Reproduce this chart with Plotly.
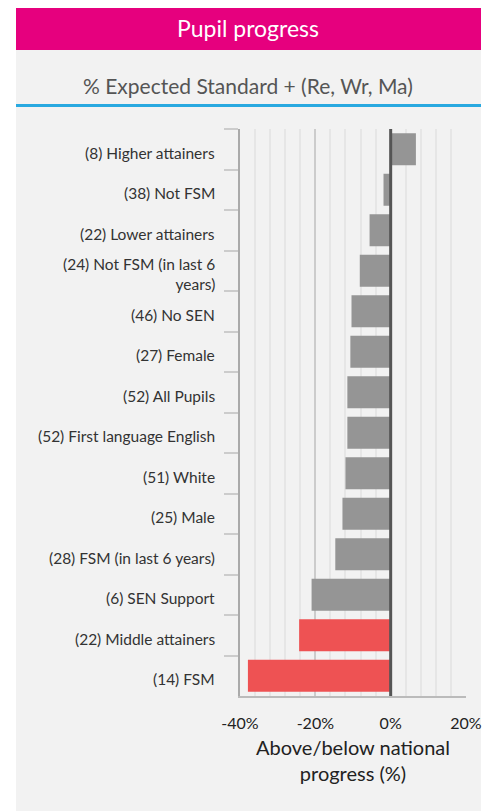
import plotly.graph_objects as go

categories = [
    "(8) Higher attainers",
    "(38) Not FSM",
    "(22) Lower attainers",
    "(24) Not FSM (in last 6<br>years)",
    "(46) No SEN",
    "(27) Female",
    "(52) All Pupils",
    "(52) First language English",
    "(51) White",
    "(25) Male",
    "(28) FSM (in last 6 years)",
    "(6) SEN Support",
    "(22) Middle attainers",
    "(14) FSM",
]
values = [6.7, -1.9, -5.6, -8.2, -10.4, -10.7, -11.5, -11.5, -12.0, -12.8, -14.7, -21.0, -24.3, -37.9]
highlight = [False] * 12 + [True, True]
x_ticks = [-40, -20, 0, 20]
x_ticklabels = ["-40%", "-20%", "0%", "20%"]

GRAY = "#959595"
RED = "#EE5253"
FONT = "Lato"

colors = [RED if h else GRAY for h in highlight]

# page offset (body margin) and figure size
OFF = 8
FW, FH = 487, 803
# plot area in page pixels
PL, PR, PT, PB = 240, 466, 129, 696
ML = PL - OFF
MR = FW - (PR - OFF)
MT = PT - OFF
MB = FH - (PB - OFF)
PW = FW - ML - MR
PH = FH - MT - MB


def px(x):
    return (x - OFF - ML) / PW


def py(y):
    return (FH - (y - OFF) - MB) / PH


fig = go.Figure(go.Bar(
    x=values, y=categories, orientation="h",
    marker=dict(color=colors, line=dict(width=0)),
    width=0.79,
))

annotations = [
    dict(text="Pupil progress", xref="paper", yref="paper",
         x=px(248), y=py(28),
         xanchor="center", yanchor="middle", showarrow=False,
         font=dict(family=FONT, size=23, color="white")),
    dict(text="% Expected Standard + (Re, Wr, Ma)", xref="paper", yref="paper",
         x=px(248), y=py(85),
         xanchor="center", yanchor="middle", showarrow=False,
         font=dict(family=FONT, size=21, color="#555555")),
]
# category labels (as text placed at each category)
for cat in categories:
    annotations.append(dict(
        text=cat, xref="paper", yref="y", x=0, y=cat,
        xanchor="right", yanchor="middle", xshift=-23, yshift=-3.5,
        align="right", showarrow=False,
        font=dict(family=FONT, size=15.5, color="#333333"),
    ))

fig.update_layout(
    width=FW, height=FH,
    paper_bgcolor="white", plot_bgcolor="rgba(0,0,0,0)",
    margin=dict(l=ML, r=MR, t=MT, b=MB),
    showlegend=False,
    font=dict(family=FONT, color="#333333"),
    shapes=[
        dict(type="rect", xref="paper", yref="paper", layer="below",
             x0=px(16), x1=px(481), y0=py(830), y1=py(50),
             fillcolor="#F2F2F2", line=dict(width=0)),
        dict(type="rect", xref="paper", yref="paper", layer="below",
             x0=px(16), x1=px(481), y0=py(50), y1=py(5),
             fillcolor="#E6007E", line=dict(width=0)),
        dict(type="rect", xref="paper", yref="paper", layer="below",
             x0=px(16), x1=px(481), y0=py(107), y1=py(104),
             fillcolor="#29A9E0", line=dict(width=0)),
        dict(type="line", xref="x", yref="paper", x0=0, x1=0, y0=0, y1=1,
             line=dict(color="#555555", width=3), layer="above"),
    ],
    annotations=annotations,
    bargap=0.21,
)

fig.update_xaxes(
    range=[-40, 20], tickvals=x_ticks, ticktext=x_ticklabels,
    showgrid=True, gridcolor="#CCCCCC", gridwidth=2,
    minor=dict(dtick=4, tick0=0, showgrid=True, gridcolor="#E6E6E6", gridwidth=1.5),
    zeroline=False,
    showline=True, linecolor="#BBBBBB", linewidth=2,
    ticks="", ticklabelstandoff=12,
    tickfont=dict(family=FONT, size=16, color="#222222"),
    title=dict(text="Above/below national<br>progress (%)", standoff=10,
               font=dict(family=FONT, size=20, color="#222222")),
    fixedrange=True,
)
fig.update_yaxes(
    categoryorder="array", categoryarray=categories, autorange="reversed",
    showline=True, linecolor="#AAAAAA", linewidth=2,
    ticks="outside", ticklen=14, tickcolor="#CCCCCC", tickwidth=2,
    tickson="boundaries", showticklabels=False,
    showgrid=False,
    fixedrange=True,
)

fig.write_html("out.html")
